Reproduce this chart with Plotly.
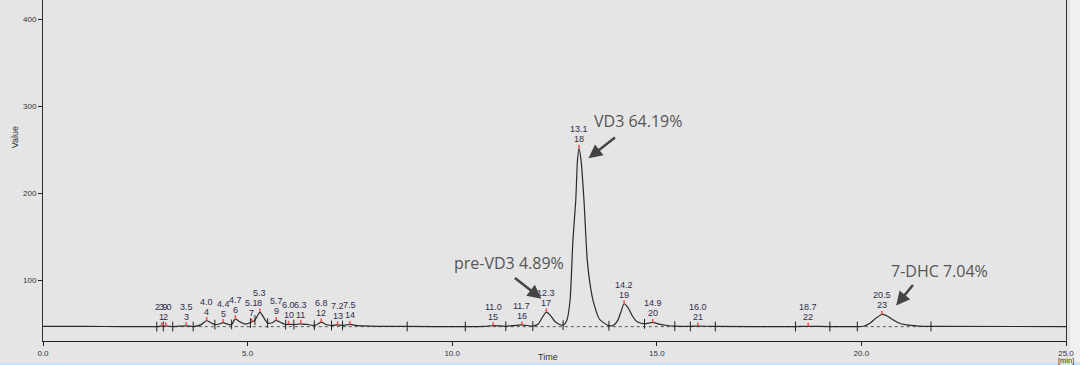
import plotly.graph_objects as go

# ---- chromatogram trace ----
time_min = [0.0, 1.0, 2.0, 2.78, 2.9, 2.94, 3.0, 3.17, 3.5, 3.67, 3.85, 4.0, 4.1, 4.2, 4.3, 4.4, 4.5,
            4.61, 4.7, 4.8, 4.95, 5.1, 5.18, 5.3, 5.38, 5.49, 5.6, 5.7, 5.82, 5.93, 6.0, 6.13, 6.3,
            6.45, 6.63, 6.72, 6.8, 6.92, 7.05, 7.2, 7.32, 7.5, 7.7, 8.2, 8.9, 10.3, 10.8, 11.0, 11.31,
            11.7, 11.97, 12.1, 12.2, 12.3, 12.4, 12.5, 12.6, 12.71, 12.8, 12.88, 12.95, 13.02, 13.06,
            13.1, 13.15, 13.22, 13.3, 13.37, 13.44, 13.6, 13.83, 13.95, 14.05, 14.12, 14.2, 14.3, 14.4,
            14.52, 14.7, 14.8, 14.9, 15.05, 15.25, 15.44, 15.82, 16.0, 16.43, 18.39, 18.7, 19.23, 19.9,
            20.05, 20.2, 20.35, 20.5, 20.62, 20.75, 20.9, 21.1, 21.4, 21.7, 25.0]
signal = [46.8, 46.7, 46.6, 46.5, 47.2, 46.7, 47.3, 46.6, 47.4, 46.6, 48.5, 53.5, 51.0, 48.8, 49.5, 51.2, 49.5,
          49.0, 55.5, 52.5, 49.5, 51.8, 54.0, 63.2, 58.0, 50.5, 51.0, 53.6, 51.0, 48.8, 49.2, 48.8, 49.8,
          49.0, 48.0, 49.5, 51.7, 49.0, 47.8, 48.6, 47.8, 49.0, 47.6, 46.9, 46.7, 46.6, 46.9, 47.6, 46.9,
          48.5, 47.1, 49.5, 57.0, 63.2, 59.5, 53.0, 49.5, 48.2, 53.6, 76.6, 145.6, 192.0, 237.0,
          251.5, 237.0, 192.0, 123.0, 95.0, 77.0, 55.0, 47.5, 48.5, 54.0, 63.0, 72.8, 68.0, 59.0,
          52.0, 49.8, 50.5, 51.3, 49.5, 47.8, 47.0, 46.8, 47.2, 46.7, 46.6, 46.9, 46.6, 46.6,
          47.0, 50.0, 56.0, 60.5, 59.0, 55.0, 51.0, 48.5, 47.2, 46.8, 46.6]

# ---- peak table ----
peak_rt = [2.9, 3.0, 3.5, 4.0, 4.4, 4.7, 5.1, 5.3, 5.7, 6.0, 6.3, 6.8, 7.2, 7.5,
           11.0, 11.7, 12.3, 13.1, 14.2, 14.9, 16.0, 18.7, 20.5]
peak_label = ["2.9", "3.0", "3.5", "4.0", "4.4", "4.7", "5.1", "5.3", "5.7", "6.0", "6.3", "6.8",
              "7.2", "7.5", "11.0", "11.7", "12.3", "13.1", "14.2", "14.9", "16.0", "18.7", "20.5"]
peak_no = ["1", "2", "3", "4", "5", "6", "7", "8", "9", "10", "11", "12", "13", "14",
           "15", "16", "17", "18", "19", "20", "21", "22", "23"]
peak_height = [47.2, 47.3, 47.4, 53.5, 51.2, 55.5, 51.8, 63.2, 53.6, 49.2, 49.8, 51.7, 48.6, 49.0,
               47.6, 48.5, 63.2, 251.5, 72.8, 51.3, 47.2, 46.9, 60.5]

# integration boundaries
bound_t = [2.78, 2.94, 3.17, 3.67, 4.2, 4.61, 5.07, 5.18, 5.49, 5.93, 6.13, 6.63, 7.05, 7.32,
           8.9, 10.32, 11.31, 11.97, 12.71, 13.83, 14.7, 15.44, 15.82, 16.43, 18.39, 19.23, 19.9, 21.7]
bound_v = [46.5, 46.7, 46.6, 46.6, 48.8, 49.0, 50.5, 54.0, 50.5, 48.8, 48.8, 48.0, 47.8, 47.8,
           46.7, 46.6, 46.9, 47.1, 48.2, 47.5, 49.8, 47.0, 46.8, 46.7, 46.6, 46.6, 46.6, 46.8]
base_t = [2.78, 21.7]
base_v = [46.5, 46.5]

# named compound annotations
cmp_text = ["VD3 64.19%", "pre-VD3 4.89%", "7-DHC 7.04%"]
cmp_text_t = [14.54, 11.38, 21.9]
cmp_text_v = [283, 120, 110.4]
cmp_arrow_t = [13.33, 12.18, 20.85]
cmp_arrow_v = [240, 78.6, 70.9]
cmp_arrow_ax = [28, -28, 18]
cmp_arrow_ay = [-22, -22, -22]

x_ticks = [0, 5, 10, 15, 20, 25]
x_ticktext = ["0.0", "5.0", "10.0", "15.0", "20.0", "25.0"]
y_ticks = [100, 200, 300, 400]

BG = "#e5e5e5"
LABEL_FONT = dict(size=9, color="#2e2e4e", family="Liberation Sans")
fig = go.Figure()

fig.add_trace(go.Scatter(x=base_t, y=base_v, mode="lines",
                         line=dict(color="#555", width=1, dash="dot"), hoverinfo="skip"))
fig.add_trace(go.Scatter(x=time_min, y=signal, mode="lines",
                         line=dict(color="#2a2a2a", width=1.2, shape="spline", smoothing=0.6)))
fig.add_trace(go.Scatter(x=bound_t, y=bound_v, mode="markers",
                         marker=dict(symbol="line-ns", size=7, line=dict(color="#222", width=1))))

ann = []
for t, v, lab, no in zip(peak_rt, peak_height, peak_label, peak_no):
    ann.append(dict(x=t, y=v, xref="x", yref="y", text="", showarrow=True, arrowhead=0,
                    ax=0, ay=-5, arrowcolor="#ff4a4a", arrowwidth=1.5, standoff=0))
    ann.append(dict(x=t, y=v, xref="x", yref="y", text=no, showarrow=False, yanchor="bottom",
                    yshift=3, font=LABEL_FONT, borderpad=0))
    ann.append(dict(x=t, y=v, xref="x", yref="y", text=lab, showarrow=False, yanchor="bottom",
                    yshift=13, font=LABEL_FONT, borderpad=0))

for txt, tt, tv, at, av, ax, ay in zip(cmp_text, cmp_text_t, cmp_text_v, cmp_arrow_t, cmp_arrow_v,
                                       cmp_arrow_ax, cmp_arrow_ay):
    ann.append(dict(x=tt, y=tv, xref="x", yref="y", text=txt, showarrow=False,
                    font=dict(size=16, color="#555555", family="Open Sans")))
    ann.append(dict(x=at, y=av, xref="x", yref="y", text="", showarrow=True, arrowhead=2,
                    arrowsize=1.1, arrowwidth=2.5, arrowcolor="#444", ax=ax, ay=ay, standoff=0))

ann.append(dict(x=0.494, y=0, xref="paper", yref="paper", text="Time", showarrow=False,
                yanchor="middle", yshift=-16, font=dict(size=9, color="#333", family="Liberation Sans")))
ann.append(dict(x=1.0, y=0, xref="paper", yref="paper", text="[min]", showarrow=False,
                xanchor="center", yanchor="middle", yshift=-19,
                font=dict(size=7.5, color="#333", family="Liberation Sans")))
ann.append(dict(x=-0.034, y=0.598, xref="paper", yref="paper", text="Value", showarrow=False,
                textangle=-90, font=dict(size=9, color="#333", family="Liberation Sans")))

fig.update_layout(
    width=1080, height=365, autosize=False,
    margin=dict(l=43, r=14, t=0, b=24, pad=0),
    paper_bgcolor=BG, plot_bgcolor=BG,
    showlegend=False,
    annotations=ann,
    shapes=[
        dict(type="rect", xref="paper", yref="paper", x0=-0.05, x1=1.02, y0=-0.062, y1=-0.075,
             fillcolor="#cfe2f3", line=dict(width=0), layer="below"),
        dict(type="rect", xref="paper", yref="paper", x0=1.004, x1=1.02, y0=-0.062, y1=1.0,
             fillcolor="#f0f0f0", line=dict(width=0), layer="below"),
    ],
    xaxis=dict(range=[0, 25], tickvals=x_ticks, ticktext=x_ticktext, showline=True,
               linecolor="#222", linewidth=1, ticks="outside", ticklen=4, tickcolor="#222",
               showgrid=False, zeroline=False,
               tickfont=dict(size=8, color="#333", family="Liberation Sans")),
    yaxis=dict(range=[30, 422], tickvals=y_ticks, showline=True, mirror=True,
               linecolor="#333", linewidth=1, ticks="outside", ticklen=4, tickcolor="#222",
               showgrid=False, zeroline=False,
               tickfont=dict(size=8, color="#333", family="Liberation Sans")),
)

fig.write_html("out.html", config={"displayModeBar": False},
               post_script="document.body.style.margin='0';")
